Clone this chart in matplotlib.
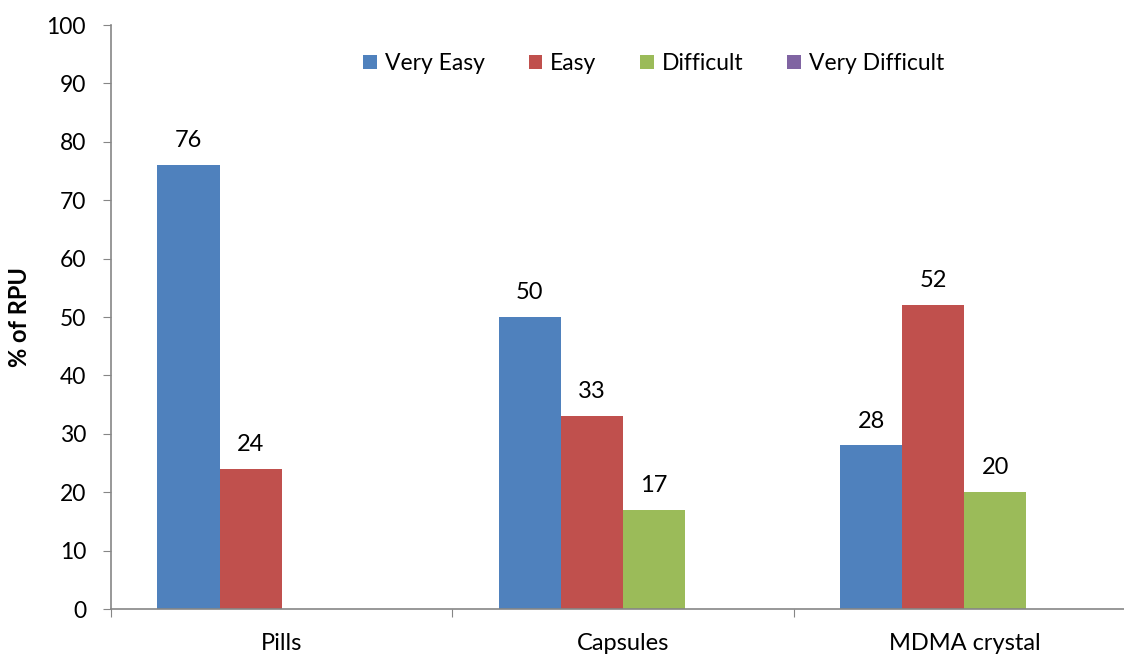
import matplotlib
matplotlib.use("Agg")
import matplotlib.pyplot as plt
import numpy as np

categories = ["Pills", "Capsules", "MDMA crystal"]
series_names = ["Very Easy", "Easy", "Difficult", "Very Difficult"]
very_easy = [76, 50, 28]
easy = [24, 33, 52]
difficult = [0, 17, 20]
very_difficult = [0, 0, 0]
colors = ["#4F81BD", "#C0504D", "#9BBB59", "#8064A2"]

plt.rcParams['font.family'] = ['Lato', 'DejaVu Sans']

fig = plt.figure(figsize=(11.24, 6.55), dpi=100)
ax = fig.add_axes([111 / 1124, 46 / 655, 1024 / 1124, 584 / 655])

x = np.arange(len(categories))
w = 0.182
all_series = [very_easy, easy, difficult, very_difficult]
for i, (vals, name, c) in enumerate(zip(all_series, series_names, colors)):
    pos = x + (i - 1.5) * w
    ax.bar(pos, vals, width=w, color=c, label=name, zorder=2)
    for p, v in zip(pos, vals):
        if v > 0:
            ax.annotate(f"{v}", (p, v), xytext=(0, 10), textcoords="offset points",
                        ha="center", va="bottom", fontsize=17)

ax.set_xlim(-0.5, 2.5)
ax.set_ylim(0, 100)
ax.set_yticks(range(0, 101, 10))
ax.tick_params(axis='y', labelsize=16.5, direction='out', length=6, color='#868686', pad=12)

ax.set_xticks([-0.5, 0.5, 1.5, 2.5])
ax.set_xticklabels([])
ax.tick_params(axis='x', which='major', direction='out', length=6, color='#868686')
ax.set_xticks(x, minor=True)
ax.set_xticklabels(categories, minor=True)
ax.tick_params(axis='x', which='minor', length=0, labelsize=17, pad=17)

for s in ['top', 'right']:
    ax.spines[s].set_visible(False)
for s in ['left', 'bottom']:
    ax.spines[s].set_color('#868686')
    ax.spines[s].set_linewidth(1.2)

ax.set_ylabel("% of RPU", fontsize=17, fontweight='bold')
ax.yaxis.set_label_coords(-0.078, 0.5)

ax.legend(loc='upper center', bbox_to_anchor=(0.53, 0.987), ncol=4, frameon=False,
          fontsize=16.5, handlelength=0.6, handleheight=0.6, columnspacing=1.9,
          handletextpad=0.35)

fig.savefig("out.png", dpi=100)
